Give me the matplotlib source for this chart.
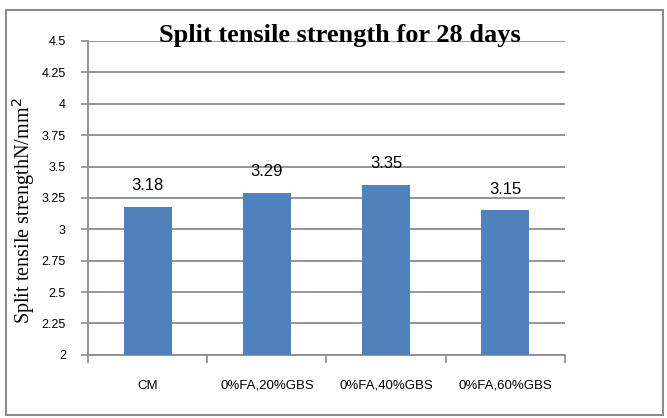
import matplotlib
matplotlib.use('Agg')
import matplotlib.pyplot as plt
from matplotlib.patches import Rectangle
import numpy as np

categories = ['CM', '0%FA,20%GBS', '0%FA,40%GBS', '0%FA,60%GBS']
strength = [3.18, 3.29, 3.35, 3.15]
y_ticks = [2, 2.25, 2.5, 2.75, 3, 3.25, 3.5, 3.75, 4, 4.25, 4.5]
y_tick_labels = ['2', '2.25', '2.5', '2.75', '3', '3.25', '3.5', '3.75', '4', '4.25', '4.5']

fig = plt.figure(figsize=(6.67, 4.18), dpi=100)
fig.patches.append(Rectangle((6 / 667, 3 / 418), 657 / 667, 405 / 418,
                             transform=fig.transFigure, fill=False,
                             edgecolor='#8c8c8c', linewidth=1.5))

ax = fig.add_axes([0.132, 0.151, 0.715, 0.751])
x = np.arange(len(categories))
ax.bar(x, strength, width=0.4, color='#4f81bd', zorder=3)
ax.set_xlim(-0.5, len(categories) - 0.5)
ax.set_ylim(2, 4.5)
ax.set_yticks(y_ticks)
ax.set_yticklabels(y_tick_labels, fontsize=9, family='Liberation Sans')
ax.set_xticks(x)
ax.set_xticklabels(categories, fontsize=9.5, family='Liberation Sans')
ax.set_xticks(np.arange(len(categories) + 1) - 0.5, minor=True)
ax.tick_params(axis='x', which='major', length=0, pad=18)
ax.tick_params(axis='x', which='minor', length=6, color='#8c8c8c', width=1.2)
ax.tick_params(axis='y', length=5, color='#8c8c8c', width=1.2, pad=11)
ax.yaxis.grid(True, color='#8c8c8c', linewidth=1.3, zorder=0)

for s in ['top', 'right']:
    ax.spines[s].set_visible(False)
for s in ['left', 'bottom']:
    ax.spines[s].set_color('#8c8c8c')
    ax.spines[s].set_linewidth(1.3)

for xi, v in zip(x, strength):
    ax.annotate(f'{v:.2f}', (xi, v), xytext=(0, 10), textcoords='offset points',
                ha='center', va='bottom', fontsize=12, family='Liberation Sans')

fig.text(0.51, 0.915, 'Split tensile strength for 28 days', ha='center', va='center',
         fontsize=19, fontweight='bold', family='Liberation Serif')
fig.text(0.035, 0.495, 'Split tensile strengthN/mm$^2$', rotation=90, ha='center',
         va='center', fontsize=14.5, family='Liberation Serif')

fig.savefig('out.png', dpi=100)
